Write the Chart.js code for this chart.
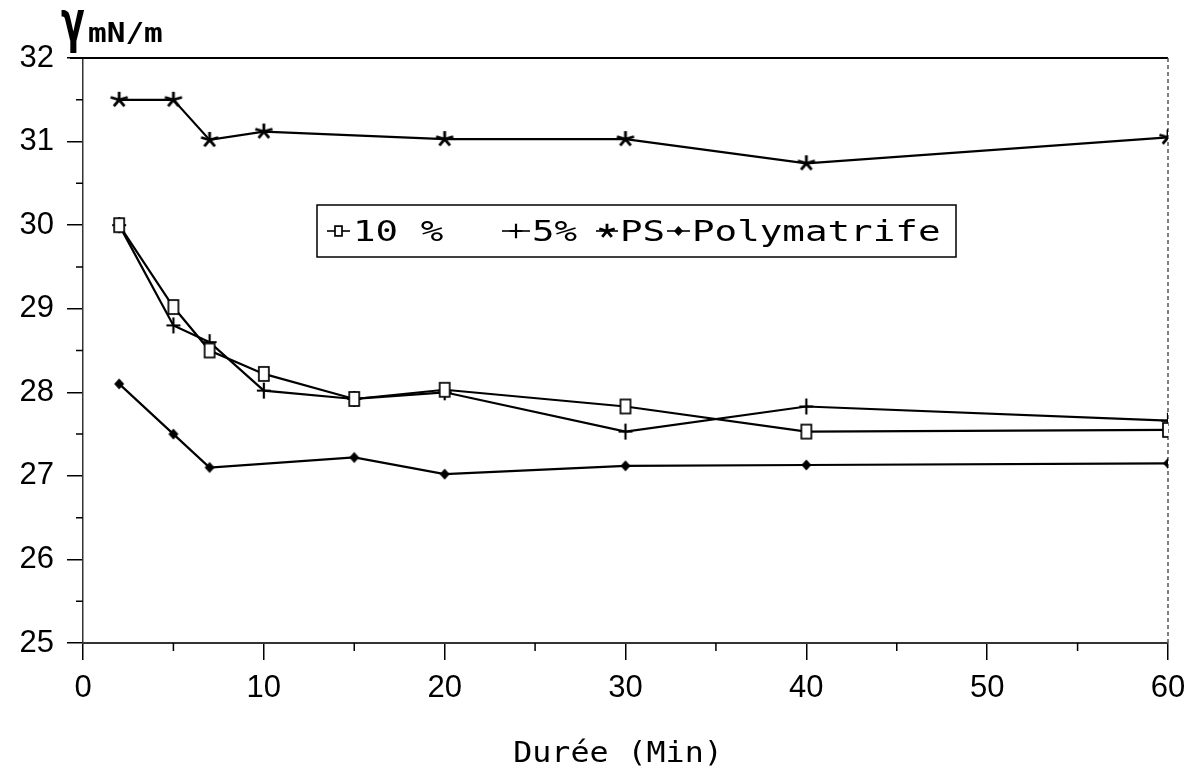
<!DOCTYPE html>
<html>
<head>
<meta charset="utf-8">
<script src="https://cdn.jsdelivr.net/npm/chart.js@4.4.0/dist/chart.umd.min.js"></script>
<style>
  body { margin: 0; background: #fff; }
  canvas { display: block; }
</style>
</head>
<body>
<canvas id="tension" width="1196" height="774"></canvas>
<script>
// durees (min) for each serie
var x_10 = [2, 5, 7, 10, 15, 20, 30, 40, 60];
var x_5 = [2, 5, 7, 10, 15, 20, 30, 40, 60];
var x_ps = [2, 5, 7, 10, 20, 30, 40, 60];
var x_poly = [2, 5, 7, 15, 20, 30, 40, 60];

// tension superficielle mN/m
var y_10 = [30.0, 29.02, 28.5, 28.22, 27.92, 28.03, 27.83, 27.53, 27.55];
var y_5 = [30.0, 28.8, 28.6, 28.02, 27.92, 28.0, 27.53, 27.83, 27.66];
var y_ps = [31.5, 31.5, 31.02, 31.12, 31.03, 31.03, 30.74, 31.05];
var y_poly = [28.1, 27.5, 27.1, 27.22, 27.02, 27.12, 27.13, 27.15];

var labels = ['10 %', '5%', 'PS', 'Polymatrife'];
var x_ticks = [0, 10, 20, 30, 40, 50, 60];
var y_ticks = [25, 26, 27, 28, 29, 30, 31, 32];

function points(xs, ys) {
    var out = [];
    for (var i = 0; i < xs.length; i++) out.push({x: xs[i], y: ys[i]});
    return out;
}

// draw a marker shape centred on (cx, cy)
function draw_marker(c, kind, cx, cy, s) {
    c.save();
    c.strokeStyle = '#000';
    c.fillStyle = '#000';
    c.lineCap = 'butt';
    if (kind == 'rect') {
        c.lineWidth = 1.7;
        c.fillStyle = '#fff';
        c.fillRect(cx - 5 * s, cy - 7 * s, 10 * s, 14 * s);
        c.strokeRect(cx - 5 * s, cy - 7 * s, 10 * s, 14 * s);
    } else if (kind == 'cross') {
        c.lineWidth = 2.2;
        c.beginPath();
        c.moveTo(cx - 7 * s, cy); c.lineTo(cx + 7 * s, cy);
        c.moveTo(cx, cy - 8 * s); c.lineTo(cx, cy + 8 * s);
        c.stroke();
    } else if (kind == 'star') {
        c.lineWidth = 2.8;
        c.beginPath();
        for (var k = 0; k < 5; k++) {
            var a = -Math.PI / 2 + k * 2 * Math.PI / 5;
            c.moveTo(cx, cy);
            c.lineTo(cx + Math.cos(a) * 9 * s, cy + Math.sin(a) * 8 * s);
        }
        c.stroke();
    } else if (kind == 'diamond') {
        c.beginPath();
        c.moveTo(cx, cy - 5.5 * s); c.lineTo(cx + 5 * s, cy);
        c.lineTo(cx, cy + 5.5 * s); c.lineTo(cx - 5 * s, cy);
        c.closePath();
        c.fill();
    }
    c.restore();
}

function marker_image(kind) {
    var cv = document.createElement('canvas');
    cv.width = 22; cv.height = 22;
    draw_marker(cv.getContext('2d'), kind, 11, 11, 1);
    return cv;
}

var kinds = ['rect', 'cross', 'star', 'diamond'];

function scaled_text(c, txt, x, y, font, sx, align) {
    c.save();
    c.translate(x, y);
    c.scale(sx, 1);
    c.font = font;
    c.fillStyle = '#000';
    c.textAlign = align || 'left';
    c.textBaseline = 'alphabetic';
    c.fillText(txt, 0, 0);
    c.restore();
}

// frame, minor ticks, legend box and titles
var extras = {
    id: 'extras',
    beforeDatasetsDraw: function(chart) {
        var c = chart.ctx, a = chart.chartArea;
        var xs = chart.scales.x, ys = chart.scales.y;
        c.save();
        c.strokeStyle = '#000';
        c.lineWidth = 2;
        c.beginPath();
        c.moveTo(70, a.top); c.lineTo(a.right, a.top);
        c.stroke();
        c.strokeStyle = '#555';
        c.lineWidth = 1.5;
        c.setLineDash([4, 3]);
        c.beginPath();
        c.moveTo(a.right, a.top); c.lineTo(a.right, a.bottom);
        c.stroke();
        c.setLineDash([]);
        c.strokeStyle = '#000';
        c.lineWidth = 1.5;
        c.beginPath();
        for (var v = 5; v < 60; v += 10) {
            var px = xs.getPixelForValue(v);
            c.moveTo(px, a.bottom); c.lineTo(px, a.bottom + 8);
        }
        for (var w = 25.5; w < 32; w += 1) {
            var py = ys.getPixelForValue(w);
            c.moveTo(a.left - 7, py); c.lineTo(a.left, py);
        }
        c.stroke();
        c.restore();
    },
    afterDraw: function(chart) {
        var c = chart.ctx;
        // axis titles
        scaled_text(c, '\u03b3', 61, 41, 'bold 56px "DejaVu Sans"', 0.62);
        scaled_text(c, 'mN/m', 88, 42, 'bold 27px "DejaVu Sans Mono"', 1.15);
        scaled_text(c, 'Durée (Min)', 618, 762, '28px "DejaVu Sans Mono"', 1.13, 'center');
        // legend
        c.save();
        c.strokeStyle = '#000';
        c.lineWidth = 1.5;
        c.strokeRect(317, 205, 639, 52);
        var mk = [[327, 350], [502, 530], [596, 618], [667, 690]];
        var tx = [353, 532, 620, 692];
        var ly = 231;
        for (var i = 0; i < labels.length; i++) {
            c.lineWidth = 1.6;
            c.beginPath();
            c.moveTo(mk[i][0], ly); c.lineTo(mk[i][1], ly);
            c.stroke();
            draw_marker(c, kinds[i], (mk[i][0] + mk[i][1]) / 2, ly, i == 0 ? 0.7 : 0.9);
            scaled_text(c, labels[i], tx[i], 241, '28px "DejaVu Sans Mono"', 1.34);
        }
        c.restore();
    }
};

function serie(label, xs, ys, kind) {
    return {
        label: label,
        data: points(xs, ys),
        borderColor: '#000',
        borderWidth: 2.2,
        pointStyle: marker_image(kind),
        pointRadius: 8,
        fill: false,
        tension: 0
    };
}

var tick_font = {family: '"Liberation Sans", Arial', size: 31};

var myChart = new Chart(document.getElementById('tension'), {
    type: 'line',
    data: {
        datasets: [
            serie(labels[0], x_10, y_10, 'rect'),
            serie(labels[1], x_5, y_5, 'cross'),
            serie(labels[2], x_ps, y_ps, 'star'),
            serie(labels[3], x_poly, y_poly, 'diamond')
        ]
    },
    options: {
        responsive: false,
        animation: false,
        layout: {padding: {top: 58, right: 28, left: 0, bottom: 0}},
        plugins: {legend: {display: false}, tooltip: {enabled: false}},
        scales: {
            x: {
                type: 'linear',
                min: 0,
                max: 60,
                afterBuildTicks: function(s) { s.ticks = x_ticks.map(function(v) { return {value: v}; }); },
                afterFit: function(s) { s.height = 131; },
                ticks: {font: tick_font, color: '#000', padding: 10, maxRotation: 0},
                grid: {drawOnChartArea: false, tickLength: 17, color: '#000', lineWidth: 1.5},
                border: {color: '#333', width: 2}
            },
            y: {
                min: 25,
                max: 32,
                afterBuildTicks: function(s) { s.ticks = y_ticks.map(function(v) { return {value: v}; }); },
                afterFit: function(s) { s.width = 83; },
                ticks: {font: tick_font, color: '#000', padding: 13},
                grid: {drawOnChartArea: false, tickLength: 16, color: '#000', lineWidth: 1.5},
                border: {color: '#333', width: 1.5}
            }
        }
    },
    plugins: [extras]
});
window.myChart = myChart;
</script>
</body>
</html>
